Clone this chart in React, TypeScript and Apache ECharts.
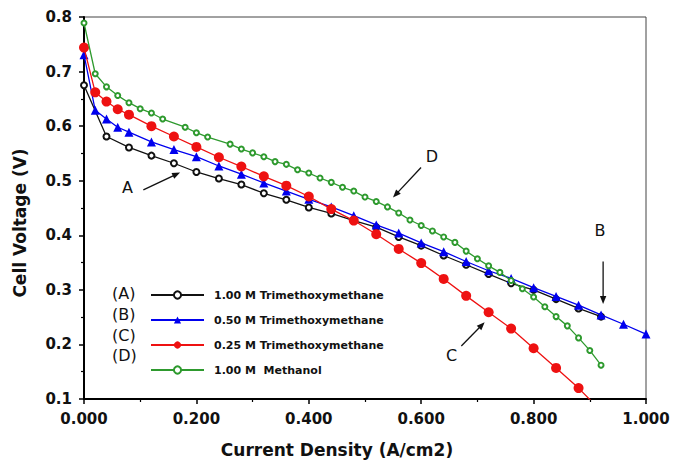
import React, { useEffect, useRef } from "react";
import * as echarts from "echarts";

// Current density (A/cm2) and cell voltage (V) for each series
const xA = [0, 0.04, 0.08, 0.12, 0.16, 0.2, 0.24, 0.28, 0.32, 0.36, 0.4, 0.44, 0.48, 0.52, 0.56, 0.6, 0.64, 0.68, 0.72, 0.76, 0.8, 0.84, 0.88, 0.92];
const yA = [0.675, 0.581, 0.561, 0.546, 0.532, 0.516, 0.504, 0.493, 0.477, 0.465, 0.451, 0.44, 0.427, 0.415, 0.397, 0.381, 0.363, 0.346, 0.329, 0.312, 0.3, 0.283, 0.266, 0.251];

const xB = [0, 0.02, 0.04, 0.06, 0.08, 0.12, 0.16, 0.2, 0.24, 0.28, 0.32, 0.36, 0.4, 0.44, 0.48, 0.52, 0.56, 0.6, 0.64, 0.68, 0.72, 0.76, 0.8, 0.84, 0.88, 0.92, 0.96, 1.0];
const yB = [0.731, 0.629, 0.613, 0.598, 0.589, 0.571, 0.557, 0.544, 0.527, 0.512, 0.496, 0.481, 0.466, 0.452, 0.436, 0.419, 0.404, 0.386, 0.37, 0.352, 0.335, 0.321, 0.304, 0.288, 0.272, 0.254, 0.237, 0.219];

const xC = [0, 0.02, 0.04, 0.06, 0.08, 0.12, 0.16, 0.2, 0.24, 0.28, 0.32, 0.36, 0.4, 0.44, 0.48, 0.52, 0.56, 0.6, 0.64, 0.68, 0.72, 0.76, 0.8, 0.84, 0.88, 0.92];
const yC = [0.744, 0.662, 0.645, 0.631, 0.621, 0.6, 0.581, 0.562, 0.543, 0.526, 0.508, 0.491, 0.471, 0.448, 0.427, 0.402, 0.375, 0.349, 0.32, 0.289, 0.259, 0.229, 0.193, 0.157, 0.12, 0.078];

const xD = [0, 0.02, 0.04, 0.06, 0.08, 0.1, 0.12, 0.14, 0.18, 0.2, 0.22, 0.26, 0.28, 0.3, 0.32, 0.34, 0.36, 0.38, 0.4, 0.42, 0.44, 0.46, 0.48, 0.5, 0.52, 0.54, 0.56, 0.58, 0.6, 0.62, 0.64, 0.66, 0.68, 0.7, 0.72, 0.74, 0.76, 0.78, 0.8, 0.82, 0.84, 0.86, 0.88, 0.9, 0.92];
const yD = [0.789, 0.696, 0.672, 0.656, 0.643, 0.632, 0.624, 0.613, 0.598, 0.588, 0.58, 0.567, 0.558, 0.551, 0.544, 0.535, 0.53, 0.52, 0.514, 0.505, 0.497, 0.488, 0.481, 0.47, 0.462, 0.452, 0.441, 0.428, 0.418, 0.408, 0.397, 0.387, 0.371, 0.357, 0.344, 0.332, 0.317, 0.302, 0.287, 0.269, 0.251, 0.234, 0.212, 0.189, 0.162];

const seriesNames = ["1.00 M Trimethoxymethane", "0.50 M Trimethoxymethane", "0.25 M Trimethoxymethane", "1.00 M  Methanol"];
const legendTags = ["(A)", "(B)", "(C)", "(D)"];

// Annotation letters and arrows, in data coordinates
const annotLabels = ["A", "D", "B", "C"];
const annotTextPos = [[0.0775, 0.488], [0.619, 0.5438], [0.918, 0.4085], [0.654, 0.179]];
const annotTail = [[0.1056, 0.4833], [0.5997, 0.5242], [0.9237, 0.3518], [0.6714, 0.1972]];
const annotHead = [[0.171, 0.515], [0.5498, 0.4692], [0.9237, 0.2742], [0.7129, 0.2407]];

const FONT = "DejaVu Sans";

const zip = (xs: number[], ys: number[]) => xs.map((x, i) => [x, ys[i]]);

export default function App() {
  const ref = useRef<HTMLDivElement>(null);
  useEffect(() => {
    if (!ref.current) return;
    const chart = echarts.init(ref.current, null, { renderer: "svg" });
    const tagGraphics = legendTags.map((t, i) => ({
      type: "text",
      left: 112,
      top: [285, 306, 327, 347][i],
      style: { text: t, font: `normal 16px '${FONT}'`, fill: "#111" },
    }));
    const option: any = {
      animation: false,
      backgroundColor: "#fff",
      grid: { left: 84, top: 17, right: 27, bottom: 62, show: true, borderColor: "#444", borderWidth: 1 },
      xAxis: {
        type: "value",
        min: 0,
        max: 1,
        interval: 0.2,
        axisLine: { lineStyle: { color: "#000", width: 2 } },
        axisTick: { inside: false, length: 5, lineStyle: { color: "#000", width: 1.5 } },
        minorTick: { show: true, splitNumber: 2, length: 3, lineStyle: { color: "#000", width: 1.2 } },
        splitLine: { show: false },
        axisLabel: {
          margin: 12,
          formatter: (v: number) => v.toFixed(3),
          fontFamily: FONT,
          fontWeight: "bold",
          fontSize: 15,
          color: "#111",
        },
      },
      yAxis: {
        type: "value",
        min: 0.1,
        max: 0.8,
        interval: 0.1,
        axisLine: { lineStyle: { color: "#000", width: 2 } },
        axisTick: { inside: false, length: 5, lineStyle: { color: "#000", width: 1.5 } },
        minorTick: { show: true, splitNumber: 2, length: 3, lineStyle: { color: "#000", width: 1.2 } },
        splitLine: { show: false },
        axisLabel: {
          margin: 12,
          formatter: (v: number) => v.toFixed(1),
          fontFamily: FONT,
          fontWeight: "bold",
          fontSize: 15,
          color: "#111",
        },
      },
      legend: {
        orient: "vertical",
        left: 145,
        top: 283,
        itemWidth: 53,
        itemHeight: 9,
        itemGap: 11,
        selectedMode: false,
        data: seriesNames,
        textStyle: { fontFamily: FONT, fontWeight: "bold", fontSize: 11, color: "#111", lineHeight: 14, padding: [0, 0, 0, 5] },
      },
      series: [
        {
          name: seriesNames[0],
          type: "line",
          data: zip(xA, yA),
          symbol: "emptyCircle",
          symbolSize: 6,
          lineStyle: { color: "#111", width: 1.3 },
          itemStyle: { color: "#111", borderWidth: 1.3 },
          z: 2,
        },
        {
          name: seriesNames[1],
          type: "line",
          data: zip(xB, yB),
          symbol: "triangle",
          symbolSize: 9,
          lineStyle: { color: "#0000ee", width: 1.3 },
          itemStyle: { color: "#0000ee" },
          z: 3,
        },
        {
          name: seriesNames[2],
          type: "line",
          data: zip(xC, yC),
          symbol: "circle",
          symbolSize: 10,
          lineStyle: { color: "#ee1111", width: 1.3 },
          itemStyle: { color: "#ee1111" },
          z: 4,
        },
        {
          name: seriesNames[3],
          type: "line",
          data: zip(xD, yD),
          symbol: "emptyCircle",
          symbolSize: 5,
          lineStyle: { color: "#2e9a2e", width: 1.3 },
          itemStyle: { color: "#2e9a2e", borderWidth: 1.2 },
          z: 5,
        },
      ],
      graphic: tagGraphics,
    };
    chart.setOption(option);

    const toPx = (p: number[]) => chart.convertToPixel({ gridIndex: 0 }, p) as number[];
    const annot: any[] = [];
    annotLabels.forEach((lab, i) => {
      const tp = toPx(annotTextPos[i]);
      const t = toPx(annotTail[i]);
      const h = toPx(annotHead[i]);
      const dx = h[0] - t[0];
      const dy = h[1] - t[1];
      const len = Math.sqrt(dx * dx + dy * dy);
      const ux = dx / len;
      const uy = dy / len;
      const al = 8;
      const aw = 3.2;
      const bx = h[0] - ux * al;
      const by = h[1] - uy * al;
      annot.push({
        type: "text",
        x: tp[0],
        y: tp[1],
        style: { text: lab, font: `normal 16px '${FONT}'`, fill: "#111", textAlign: "center", textVerticalAlign: "middle" },
        z: 10,
      });
      annot.push({
        type: "line",
        shape: { x1: t[0], y1: t[1], x2: bx + ux * 2, y2: by + uy * 2 },
        style: { stroke: "#111", lineWidth: 1.3 },
        z: 10,
      });
      annot.push({
        type: "polygon",
        shape: {
          points: [
            [h[0], h[1]],
            [bx - uy * aw, by + ux * aw],
            [bx + uy * aw, by - ux * aw],
          ],
        },
        style: { fill: "#111" },
        z: 10,
      });
    });
    const titles = [
      {
        type: "text",
        x: 20,
        y: 223,
        rotation: Math.PI / 2,
        style: { text: "Cell Voltage (V)", font: `bold 17px '${FONT}'`, fill: "#111", textAlign: "center", textVerticalAlign: "middle" },
      },
      {
        type: "text",
        x: 337,
        y: 450,
        style: { text: "Current Density (A/cm2)", font: `bold 17px '${FONT}'`, fill: "#111", textAlign: "center", textVerticalAlign: "middle" },
      },
    ];
    chart.setOption({ graphic: [...tagGraphics, ...titles, ...annot] }, { replaceMerge: ["graphic"] });
    return () => chart.dispose();
  }, []);
  return <div ref={ref} style={{ position: "fixed", left: 0, top: 0, width: 673, height: 461 }} />;
}
